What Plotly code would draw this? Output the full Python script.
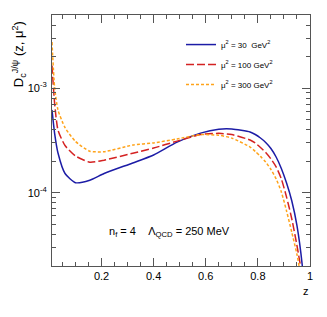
import plotly.graph_objects as go

z = [0.01, 0.02, 0.033, 0.06, 0.1, 0.155, 0.21, 0.32, 0.4, 0.49, 0.58, 0.65, 0.7,
     0.77, 0.79, 0.81, 0.83, 0.85, 0.87, 0.89, 0.91, 0.93, 0.95, 0.97, 0.99]
d_mu30 = [6.2e-4, 3.7e-4, 2.4e-4, 1.53e-4, 1.25e-4, 1.32e-4, 1.53e-4, 1.93e-4, 2.3e-4, 3.05e-4, 3.72e-4, 4.05e-4, 4.07e-4,
          3.81e-4, 3.61e-4, 3.34e-4, 3.03e-4, 2.65e-4, 2.2e-4, 1.71e-4, 1.24e-4, 8.4e-5, 4.85e-5, 2.06e-5, 5e-6]
d_mu100 = [1.65e-3, 7.2e-4, 3.98e-4, 2.83e-4, 2.25e-4, 1.96e-4, 2.05e-4, 2.39e-4, 2.68e-4, 3.12e-4, 3.6e-4, 3.7e-4, 3.6e-4,
           3.2e-4, 2.99e-4, 2.71e-4, 2.43e-4, 2.11e-4, 1.77e-4, 1.36e-4, 9.1e-5, 5.65e-5, 3.13e-5, 1.58e-5, 6e-6]
d_mu300 = [2.76e-3, 1.02e-3, 6.2e-4, 4.2e-4, 3.1e-4, 2.5e-4, 2.47e-4, 2.86e-4, 3.0e-4, 3.27e-4, 3.6e-4, 3.55e-4, 3.33e-4,
           2.74e-4, 2.49e-4, 2.23e-4, 1.97e-4, 1.67e-4, 1.36e-4, 1.02e-4, 6.7e-5, 4.2e-5, 2.57e-5, 1.33e-5, 5e-6]

labels = ["μ<sup>2</sup> = 30  GeV<sup>2</sup>", "μ<sup>2</sup> = 100 GeV<sup>2</sup>", "μ<sup>2</sup> = 300 GeV<sup>2</sup>"]
x_ticks = [0.2, 0.4, 0.6, 0.8, 1.0]
x_ticktext = ["0.2", "0.4", "0.6", "0.8", "1"]
y_ticks = [1e-4, 1e-3]
y_ticktext = ["10<sup>-4</sup>", "10<sup>-3</sup>"]
y_minor = [m * 10 ** e for e in (-5, -4, -3) for m in range(2, 10) if 2e-5 <= m * 10 ** e <= 5e-3]

FONT = "Liberation Sans, Arial, sans-serif"
fig = go.Figure()
styles = [("#1c1ca6", "solid", 1.5), ("#d42222", "8px,3px", 1.5), ("#ffa31a", "3px,2px", 1.5)]
for vals, lab, (col, dash, w), g in zip([d_mu30, d_mu100, d_mu300], labels, styles, ["a", "b", "c"]):
    fig.add_trace(go.Scatter(x=z, y=vals, mode="lines", name=lab, legendgroup=g,
                             line=dict(color=col, dash=dash, width=w, shape="spline", smoothing=0.6)))

axcol = "#555555"
fig.update_xaxes(range=[0.01, 1.0], tickvals=x_ticks, ticktext=x_ticktext, ticks="inside", ticklen=8,
                 tickcolor=axcol, showline=True, linecolor=axcol, linewidth=1, mirror="allticks",
                 showgrid=False, zeroline=False, tickfont=dict(size=11, color="black", family=FONT),
                 minor=dict(dtick=0.05, tick0=0, ticks="inside", ticklen=4, tickcolor=axcol, showgrid=False))
fig.update_yaxes(type="log", range=[-4.7, -2.3], tickvals=y_ticks, ticktext=y_ticktext, ticks="inside", ticklen=8,
                 tickcolor=axcol, showline=True, linecolor=axcol, linewidth=1, mirror="allticks",
                 showgrid=False, zeroline=False, tickfont=dict(size=11, color="black", family=FONT),
                 ticklabelstandoff=2,
                 minor=dict(tickvals=y_minor, ticks="inside", ticklen=4, tickcolor=axcol, showgrid=False))

fig.add_annotation(text="D<sub>c</sub><sup>J/ψ</sup> (z, μ<sup>2</sup>)", xref="paper", yref="paper",
                   x=-0.13, y=0.985, xanchor="center", yanchor="top", textangle=-90, showarrow=False,
                   font=dict(size=13, color="black", family=FONT))
fig.add_annotation(text="z", xref="paper", yref="paper", x=0.985, y=-0.1, xanchor="center", yanchor="middle",
                   showarrow=False, font=dict(size=11, color="black", family=FONT))
fig.add_annotation(text="n<sub>f</sub> = 4    Λ<sub>QCD</sub> = 250 MeV", xref="paper", yref="paper",
                   x=0.455, y=0.135, xanchor="center", yanchor="middle", showarrow=False,
                   font=dict(size=11, color="black", family=FONT))

fig.update_layout(width=327, height=317, margin=dict(l=52, r=17, t=15, b=51),
                  paper_bgcolor="white", plot_bgcolor="white",
                  font=dict(family=FONT, color="black"),
                  legend=dict(x=0.5, y=0.94, xanchor="left", yanchor="top", bgcolor="rgba(0,0,0,0)",
                              font=dict(size=8, family=FONT), tracegroupgap=1, itemwidth=30),
                  showlegend=True)
fig.write_html("out.html", config={"displayModeBar": False},
               post_script="document.body.style.margin='0';")
